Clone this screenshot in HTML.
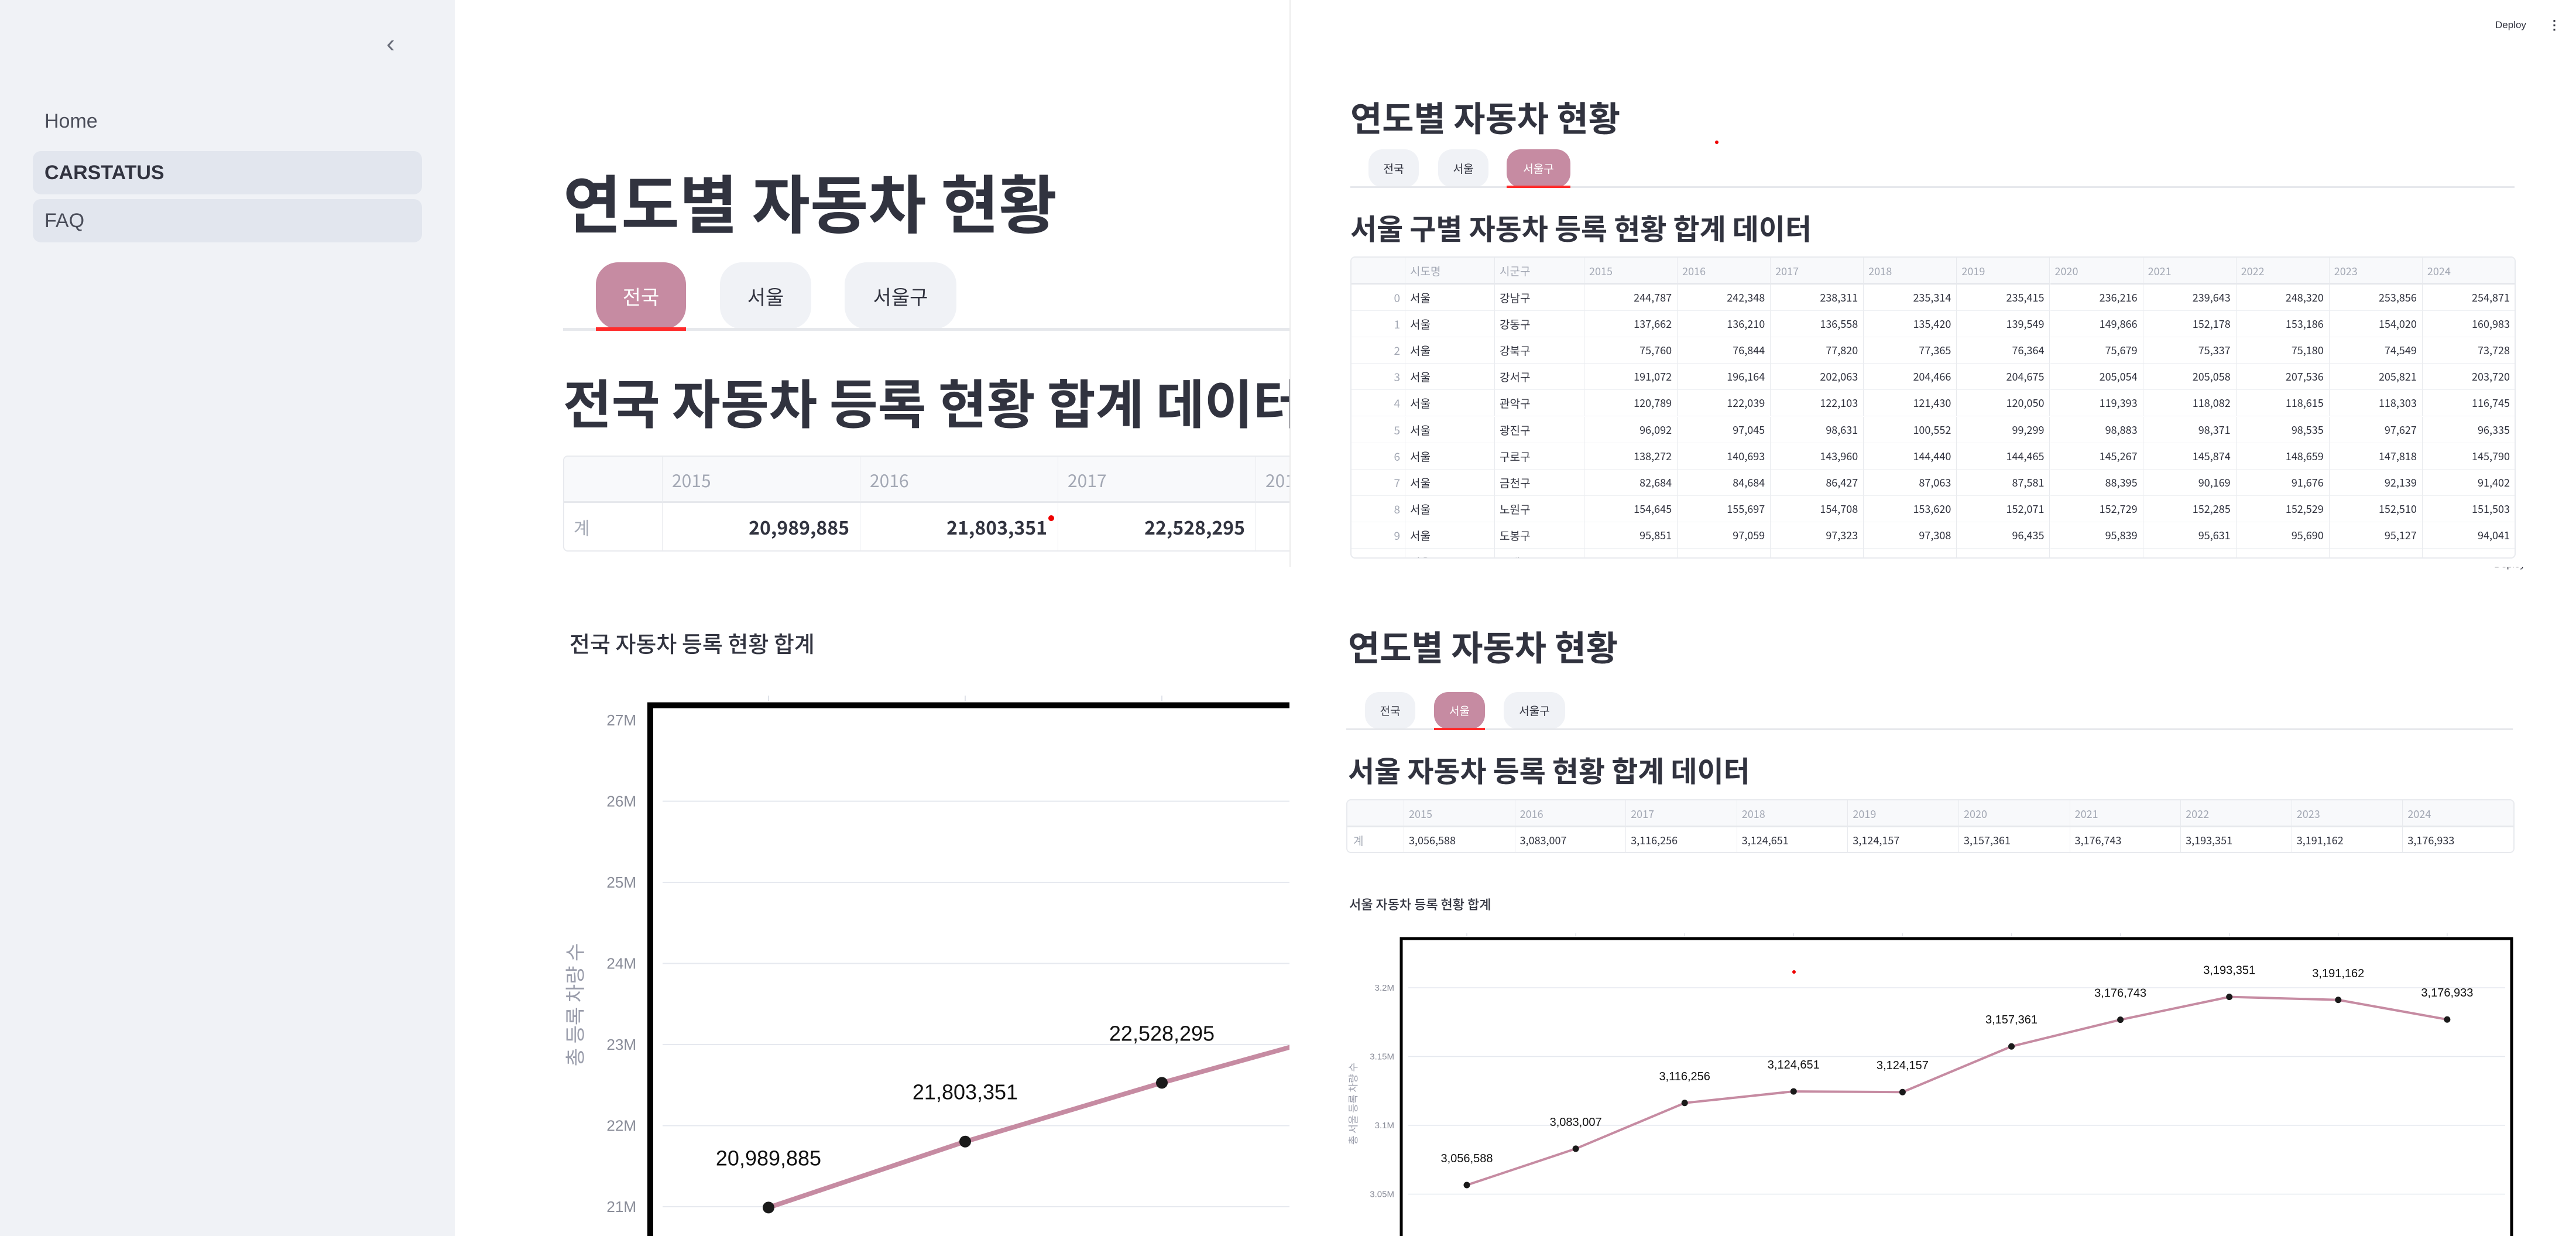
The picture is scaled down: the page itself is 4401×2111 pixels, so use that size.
<!DOCTYPE html>
<html><head><meta charset="utf-8">
<style>
*{margin:0;padding:0;box-sizing:border-box}
body{width:4401px;height:2111px;overflow:hidden;background:#fff;font-family:"Liberation Sans","Noto Sans CJK KR",sans-serif;color:#31333f;position:relative}
.abs{position:absolute}
.kr{font-family:"Noto Sans CJK KR","Liberation Sans",sans-serif}
.pill{position:absolute;border-radius:38px;background:#f0f2f6;display:flex;align-items:center;justify-content:center;color:#31333f}
.pill.on{background:#c68ba2;color:#fff}
.tbl{position:absolute;border:2px solid #e8eaee;border-radius:8px;overflow:hidden;background:#fff}
.cell{position:absolute;white-space:nowrap;overflow:hidden}
</style></head>
<body>
<div class="abs" style="left:0;top:0;width:777px;height:2111px;background:#f0f2f6"></div>
<div class="abs" style="left:660px;top:50px;width:36px;height:50px;font-size:44px;color:#6b6f7b;line-height:50px">&#8249;</div>
<div class="abs" style="left:76px;top:188px;font-size:34px;color:#4a4d59">Home</div>
<div class="abs" style="left:56px;top:258px;width:665px;height:74px;background:#e2e6ee;border-radius:14px;font-size:34px;font-weight:700;line-height:74px;padding-left:20px;color:#31333f">CARSTATUS</div>
<div class="abs" style="left:56px;top:340px;width:665px;height:74px;background:#e2e6ee;border-radius:14px;font-size:34px;line-height:74px;padding-left:20px;color:#4a4d59">FAQ</div>

<div class="abs" style="left:777px;top:0;width:1426px;height:2111px;overflow:hidden">
  <div class="abs kr" style="left:185px;top:268px;font-size:108px;font-weight:700;white-space:nowrap;line-height:150px">연도별 자동차 현황</div>
  <div class="pill on kr" style="left:241px;top:448px;width:154px;height:114px;font-size:34px">전국</div>
  <div class="pill kr" style="left:453px;top:448px;width:156px;height:114px;font-size:34px">서울</div>
  <div class="pill kr" style="left:666px;top:448px;width:191px;height:114px;font-size:34px">서울구</div>
  <div class="abs" style="left:185px;top:560px;width:1300px;height:5px;background:#e6e8ec"></div>
  <div class="abs" style="left:241px;top:559px;width:154px;height:6px;background:#ff2b2b"></div>
  <div class="abs kr" style="left:185px;top:622px;font-size:90px;font-weight:700;white-space:nowrap;line-height:124px">전국 자동차 등록 현황 합계 데이터</div>
  <div class="tbl" id="tblN" style="left:185px;top:778px;width:1400px;height:164px"></div>
  <div class="abs" style="left:1014px;top:880px;width:10px;height:10px;border-radius:5px;background:#e00"></div>
  <div class="abs kr" style="left:196px;top:1070px;font-size:38px;font-weight:500;white-space:nowrap">전국 자동차 등록 현황 합계</div>
</div>

<div class="abs" style="left:2203px;top:0;width:2198px;height:968px;overflow:hidden;border-left:2px solid #ececec">
  <div class="abs" style="left:2058px;top:33px;font-size:17px;color:#31333f">Deploy</div>
  <div class="abs" style="left:2148px;top:30px;font-size:22px;font-weight:700;color:#31333f">&#8942;</div>
  <div class="abs kr" style="left:102px;top:158px;font-size:59px;font-weight:700;white-space:nowrap;line-height:82px">연도별 자동차 현황</div>
  <div class="abs" style="left:725px;top:240px;width:6px;height:6px;border-radius:3px;background:#e00"></div>
  <div class="pill kr" style="left:133px;top:255px;width:86px;height:65px;font-size:19px;border-radius:24px">전국</div>
  <div class="pill kr" style="left:252px;top:255px;width:86px;height:65px;font-size:19px;border-radius:24px">서울</div>
  <div class="pill on kr" style="left:369px;top:255px;width:109px;height:65px;font-size:19px;border-radius:24px">서울구</div>
  <div class="abs" style="left:102px;top:318px;width:1989px;height:3px;background:#e6e8ec"></div>
  <div class="abs" style="left:369px;top:317px;width:109px;height:4px;background:#ff2b2b"></div>
  <div class="abs kr" style="left:102px;top:353px;font-size:49px;font-weight:700;white-space:nowrap;line-height:72px">서울 구별 자동차 등록 현황 합계 데이터</div>
  <div class="tbl" id="tblD" style="left:102px;top:438px;width:1991px;height:516px"></div>
</div>

<div class="abs" style="left:2203px;top:968px;width:2198px;height:1143px;overflow:hidden">
  <div class="abs" style="left:2058px;top:-14px;font-size:17px;color:#31333f">Deploy</div>
  <div class="abs kr" style="left:100px;top:94px;font-size:59px;font-weight:700;white-space:nowrap;line-height:82px">연도별 자동차 현황</div>
  <div class="pill kr" style="left:129px;top:214px;width:86px;height:63px;font-size:19px;border-radius:24px">전국</div>
  <div class="pill on kr" style="left:247px;top:214px;width:87px;height:63px;font-size:19px;border-radius:24px">서울</div>
  <div class="pill kr" style="left:366px;top:214px;width:105px;height:63px;font-size:19px;border-radius:24px">서울구</div>
  <div class="abs" style="left:97px;top:276px;width:1993px;height:3px;background:#e6e8ec"></div>
  <div class="abs" style="left:247px;top:275px;width:87px;height:4px;background:#ff2b2b"></div>
  <div class="abs kr" style="left:100px;top:311px;font-size:49px;font-weight:700;white-space:nowrap;line-height:72px">서울 자동차 등록 현황 합계 데이터</div>
  <div class="tbl" id="tblS" style="left:97px;top:397px;width:1996px;height:92px"></div>
  <div class="abs kr" style="left:102px;top:560px;font-size:22px;font-weight:500;white-space:nowrap">서울 자동차 등록 현황 합계</div>
</div>

<svg id="charts" class="abs" style="left:0;top:0" width="4401" height="2111" xmlns="http://www.w3.org/2000/svg">
  <defs>
    <clipPath id="clipL"><rect x="777" y="0" width="1426" height="2111"/></clipPath>
    <clipPath id="clipR"><rect x="2203" y="968" width="2198" height="1143"/></clipPath>
  </defs>
  <g id="chartL" clip-path="url(#clipL)"></g>
  <g id="chartR" clip-path="url(#clipR)"></g>
</svg>

<script>
const natYears = ["2015","2016","2017","2018","2019","2020","2021","2022","2023","2024"];
const natValues = [20989885,21803351,22528295,23202555,23677366,24365979,24911101,25503078,25949201,26293000];
const natTicks = [21,22,23,24,25,26,27];
const natTickLabels = ["21M","22M","23M","24M","25M","26M","27M"];
const seoYears = ["2015","2016","2017","2018","2019","2020","2021","2022","2023","2024"];
const seoValues = [3056588,3083007,3116256,3124651,3124157,3157361,3176743,3193351,3191162,3176933];
const seoTicks = [3.05,3.1,3.15,3.2];
const seoTickLabels = ["3.05M","3.1M","3.15M","3.2M"];
const distNames = ["강남구","강동구","강북구","강서구","관악구","광진구","구로구","금천구","노원구","도봉구","동대문구"];
const distRows = [
["244,787","242,348","238,311","235,314","235,415","236,216","239,643","248,320","253,856","254,871"],
["137,662","136,210","136,558","135,420","139,549","149,866","152,178","153,186","154,020","160,983"],
["75,760","76,844","77,820","77,365","76,364","75,679","75,337","75,180","74,549","73,728"],
["191,072","196,164","202,063","204,466","204,675","205,054","205,058","207,536","205,821","203,720"],
["120,789","122,039","122,103","121,430","120,050","119,393","118,082","118,615","118,303","116,745"],
["96,092","97,045","98,631","100,552","99,299","98,883","98,371","98,535","97,627","96,335"],
["138,272","140,693","143,960","144,440","144,465","145,267","145,874","148,659","147,818","145,790"],
["82,684","84,684","86,427","87,063","87,581","88,395","90,169","91,676","92,139","91,402"],
["154,645","155,697","154,708","153,620","152,071","152,729","152,285","152,529","152,510","151,503"],
["95,851","97,059","97,323","97,308","96,435","95,839","95,631","95,690","95,127","94,041"],
["100,000","100,000","100,000","100,000","100,000","100,000","100,000","100,000","100,000","100,000"]
];

const NS="http://www.w3.org/2000/svg";
function mk(tag,attrs,parent){const e=document.createElementNS(NS,tag);for(const k in attrs)e.setAttribute(k,attrs[k]);parent.appendChild(e);return e;}
function fmt(v){return v.toLocaleString("en-US");}

(function(){
  const g=document.getElementById("chartL");
  const x=i=>1313+i*336;
  const y=v=>2061-(v/1e6-21)*138.5;
  for(let i=0;i<natYears.length;i++){
    const t=mk("line",{x1:x(i),x2:x(i),y1:1188,y2:1197,stroke:"#e0e3ea","stroke-width":2},g);
    
    
  }
  for(let k=0;k<natTicks.length;k++){
    const yy=y(natTicks[k]*1e6);
    if(k<natTicks.length-1){
      const gl=mk("line",{x1:1132,x2:2203,y1:yy,y2:yy,stroke:"#e6e9ef","stroke-width":2},g);
      
      
    }
    const tl=mk("text",{x:1087,y:yy+9,"text-anchor":"end","font-size":26,fill:"#8a8d99","font-family":"Liberation Sans, sans-serif"},g);
    tl.textContent=natTickLabels[k];
    
    
  }
  const fr=mk("path",{d:"M1111 2111 V1204.5 H2210",fill:"none",stroke:"#000","stroke-width":10},g);
  
  
  const pts=natValues.map((v,i)=>x(i)+","+y(v)).join(" ");
  const ln=mk("polyline",{points:pts,fill:"none",stroke:"#c68ba2","stroke-width":8},g);
  
  
  natValues.forEach((v,i)=>{
    const c=mk("circle",{cx:x(i),cy:y(v),r:10,fill:"#1a1a1a"},g);
    
    
    const t=mk("text",{x:x(i),y:y(v)-72,"text-anchor":"middle","font-size":36,fill:"#111","font-family":"Liberation Sans, sans-serif"},g);
    t.textContent=fmt(v);
    
    
  });
  const yt=mk("text",{x:0,y:0,transform:"translate(995,1716) rotate(-90)","text-anchor":"middle","font-size":34,fill:"#9a9dab","font-family":"Noto Sans CJK KR, sans-serif"},g);
  yt.textContent="총 등록 차량 수";
  
  
})();

(function(){
  const g=document.getElementById("chartR");
  const x=i=>2506+i*186.1;
  const y=v=>1687+(3.2-v/1e6)/0.05*117.5;
  for(let i=0;i<seoYears.length;i++){
    const t=mk("line",{x1:x(i),x2:x(i),y1:1594,y2:1599,stroke:"#e0e3ea","stroke-width":1.5},g);
    
    
  }
  for(let k=0;k<seoTicks.length;k++){
    const yy=y(seoTicks[k]*1e6);
    const gl=mk("line",{x1:2406,x2:4280,y1:yy,y2:yy,stroke:"#e6e9ef","stroke-width":1.5},g);
    
    
    const tl=mk("text",{x:2382,y:yy+5,"text-anchor":"end","font-size":15,fill:"#8a8d99","font-family":"Liberation Sans, sans-serif"},g);
    tl.textContent=seoTickLabels[k];
    
    
  }
  const fr=mk("path",{d:"M2394 2111 V1603 H4291 V2111",fill:"none",stroke:"#000","stroke-width":5},g);
  
  
  const pts=seoValues.map((v,i)=>x(i)+","+y(v)).join(" ");
  const ln=mk("polyline",{points:pts,fill:"none",stroke:"#c68ba2","stroke-width":4},g);
  
  
  seoValues.forEach((v,i)=>{
    const c=mk("circle",{cx:x(i),cy:y(v),r:5.5,fill:"#1a1a1a"},g);
    
    
    const t=mk("text",{x:x(i),y:y(v)-39,"text-anchor":"middle","font-size":20,fill:"#111","font-family":"Liberation Sans, sans-serif"},g);
    t.textContent=fmt(v);
    
    
  });
  const yt=mk("text",{x:0,y:0,transform:"translate(2318,1885) rotate(-90)","text-anchor":"middle","font-size":17,fill:"#9a9dab","font-family":"Noto Sans CJK KR, sans-serif"},g);
  yt.textContent="총 서울 등록 차량 수";
  
  
  const rd=mk("circle",{cx:3065,cy:1660,r:3,fill:"#e00"},g);
  
  
})();

function addCell(tbl,l,t,w,h,txt,opts){
  const d=document.createElement("div");
  d.className="cell kr";
  d.style.left=l+"px";d.style.top=t+"px";d.style.width=w+"px";d.style.height=h+"px";
  d.style.lineHeight=h+"px";d.style.fontSize=opts.fs+"px";d.style.color=opts.color;
  d.style.textAlign=opts.align;d.style.padding="0 "+opts.pad+"px";
  if(opts.bg)d.style.background=opts.bg;
  if(opts.bold)d.style.fontWeight="600";
  d.style.borderRight=opts.br?"1px solid #e8eaee":"none";
  d.style.borderBottom=opts.bb?opts.bb:"1px solid #eef0f3";
  d.textContent=txt;
  tbl.appendChild(d);
  return d;
}
(function(){
  const t=document.getElementById("tblN");
  const idxW=168,colW=338,hh=79,rh=83;
  const h0=addCell(t,0,0,idxW,hh,"",{fs:30,color:"#a3a8b4",align:"left",pad:16,bg:"#f8f9fb",br:1,bb:"3px solid #e6e8ec"});
  
  
  const r0=addCell(t,0,hh,idxW,rh,"계",{fs:30,color:"#a3a8b4",align:"left",pad:16,br:1});
  
  
  natYears.forEach((yr,i)=>{
    const h=addCell(t,idxW+i*colW,0,colW,hh,yr,{fs:30,color:"#a3a8b4",align:"left",pad:16,bg:"#f8f9fb",br:1,bb:"3px solid #e6e8ec"});
    
    
    const c=addCell(t,idxW+i*colW,hh,colW,rh,fmt(natValues[i]),{fs:32,color:"#31333f",align:"right",pad:18,bold:1,br:1});
    
    
  });
})();
(function(){
  const t=document.getElementById("tblD");
  const hh=46,rh=45.1;
  const lefts=[0,92,245,398];const colW=159.1;
  const hs=[["",92,"right"],["시도명",153,"left"],["시군구",153,"left"]];
  hs.forEach((h,k)=>{
    const c=addCell(t,lefts[k],0,h[1],hh,h[0],{fs:19,color:"#a3a8b4",align:"left",pad:8,bg:"#f8f9fb",br:1,bb:"3px solid #e6e8ec"});
    
    
  });
  natYears.forEach((yr,i)=>{
    const c=addCell(t,398+i*colW,0,colW,hh,yr,{fs:18,color:"#a3a8b4",align:"left",pad:8,bg:"#f8f9fb",br:1,bb:"3px solid #e6e8ec"});
    
    
  });
  distRows.forEach((row,r)=>{
    const top=hh+r*rh;
    const a=addCell(t,0,top,92,rh,String(r),{fs:19,color:"#a3a8b4",align:"right",pad:8,br:1});
    
    
    const b=addCell(t,92,top,153,rh,"서울",{fs:19,color:"#31333f",align:"left",pad:8,br:1});
    
    
    const c=addCell(t,245,top,153,rh,distNames[r],{fs:19,color:"#31333f",align:"left",pad:8,br:1});
    
    
    row.forEach((v,i)=>{
      const d=addCell(t,398+i*colW,top,colW,rh,v,{fs:18,color:"#31333f",align:"right",pad:9,br:1});
      
      
    });
  });
})();
(function(){
  const t=document.getElementById("tblS");
  const idxW=97,colW=189.6,hh=46,rh=45;
  const h0=addCell(t,0,0,idxW,hh,"",{fs:19,color:"#a3a8b4",align:"left",pad:8,bg:"#f8f9fb",br:1,bb:"3px solid #e6e8ec"});
  
  
  const r0=addCell(t,0,hh,idxW,rh,"계",{fs:19,color:"#a3a8b4",align:"left",pad:10,br:1});
  
  
  seoYears.forEach((yr,i)=>{
    const h=addCell(t,idxW+i*colW,0,colW,hh,yr,{fs:18,color:"#a3a8b4",align:"left",pad:8,bg:"#f8f9fb",br:1,bb:"3px solid #e6e8ec"});
    
    
    const c=addCell(t,idxW+i*colW,hh,colW,rh,fmt(seoValues[i]),{fs:18,color:"#31333f",align:"left",pad:8,br:1});
    
    
  });
})();
</script>
</body></html>
